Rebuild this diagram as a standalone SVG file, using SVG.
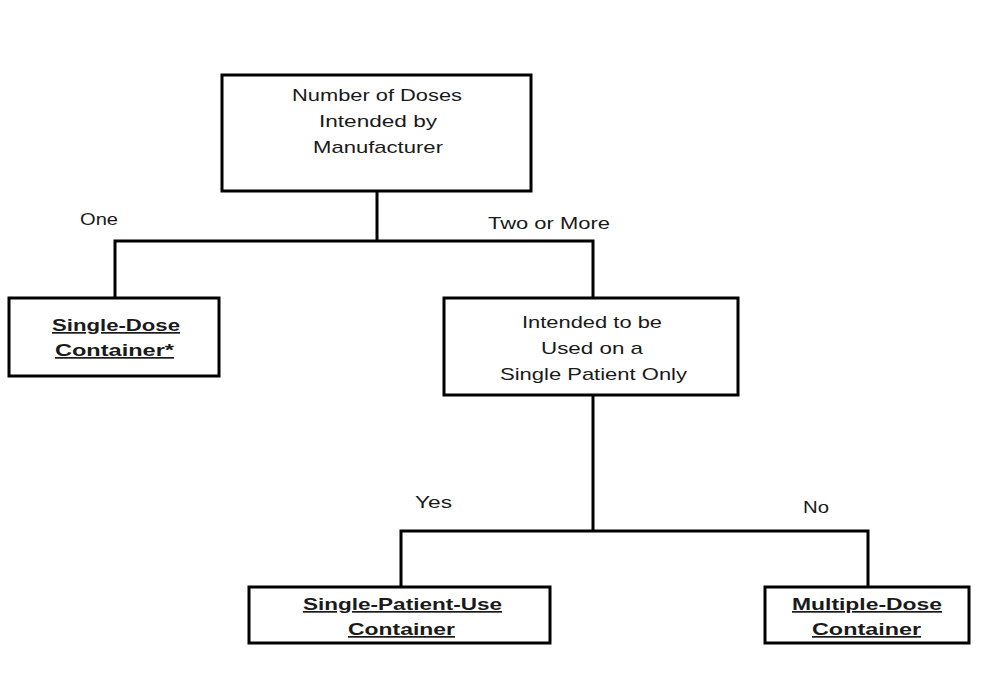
<svg xmlns="http://www.w3.org/2000/svg" width="981" height="675" viewBox="0 0 981 675">
<style>
.box{fill:#fff;stroke:#000;stroke-width:3}
.ln{fill:none;stroke:#000;stroke-width:3}
.t{font-family:"Liberation Sans",Arial,sans-serif;font-size:17px;fill:#1a1a1a}
.b{font-family:"Liberation Sans",Arial,sans-serif;font-size:17px;font-weight:bold;fill:#1a1a1a;text-decoration:underline}
</style>
<rect width="981" height="675" fill="#fff"/>
<g id="connectors">
<polyline class="ln" points="377,191 377,241"/>
<polyline class="ln" points="115,298 115,241 593,241 593,298"/>
<polyline class="ln" points="593,395 593,531"/>
<polyline class="ln" points="401,587 401,531 868,531 868,587"/>
<text class="t" x="80" y="225" textLength="38" lengthAdjust="spacingAndGlyphs">One</text>
<text class="t" x="488" y="229" textLength="122" lengthAdjust="spacingAndGlyphs">Two or More</text>
<text class="t" x="415" y="508" textLength="37" lengthAdjust="spacingAndGlyphs">Yes</text>
<text class="t" x="803" y="513" textLength="26" lengthAdjust="spacingAndGlyphs">No</text>
</g>
<g id="n-doses">
<rect class="box" x="222" y="75" width="309" height="116"/>
<text class="t" x="292" y="101" textLength="170" lengthAdjust="spacingAndGlyphs">Number  of Doses</text>
<text class="t" x="319" y="127" textLength="118" lengthAdjust="spacingAndGlyphs">Intended  by</text>
<text class="t" x="313" y="153" textLength="130" lengthAdjust="spacingAndGlyphs">Manufacturer</text>
</g>
<g id="n-single-dose">
<rect class="box" x="9" y="298" width="210" height="78"/>
<text class="b" x="52" y="331" textLength="128" lengthAdjust="spacingAndGlyphs">Single-Dose</text>
<text class="b" x="55" y="356" textLength="119" lengthAdjust="spacingAndGlyphs">Container*</text>
</g>
<g id="n-single-patient-q">
<rect class="box" x="444" y="298" width="294" height="97"/>
<text class="t" x="522" y="328" textLength="140" lengthAdjust="spacingAndGlyphs">Intended  to be</text>
<text class="t" x="541" y="354" textLength="102" lengthAdjust="spacingAndGlyphs">Used on a</text>
<text class="t" x="500" y="380" textLength="187" lengthAdjust="spacingAndGlyphs">Single Patient  Only</text>
</g>
<g id="n-single-patient-use">
<rect class="box" x="249" y="587" width="301" height="56"/>
<text class="b" x="303" y="610" textLength="199" lengthAdjust="spacingAndGlyphs">Single-Patient-Use</text>
<text class="b" x="348" y="635" textLength="107" lengthAdjust="spacingAndGlyphs">Container</text>
</g>
<g id="n-multiple-dose">
<rect class="box" x="765" y="587" width="204" height="56"/>
<text class="b" x="792" y="610" textLength="150" lengthAdjust="spacingAndGlyphs">Multiple-Dose</text>
<text class="b" x="812" y="635" textLength="109" lengthAdjust="spacingAndGlyphs">Container</text>
</g>
</svg>
